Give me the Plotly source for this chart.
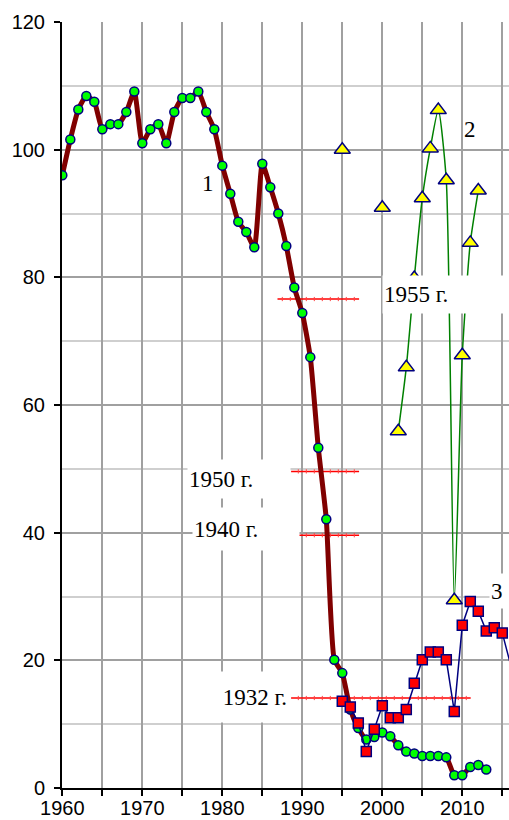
import plotly.graph_objects as go

# ---- data ----
years1 = list(range(1960, 2014))
series1 = [96.0, 101.6, 106.3, 108.4, 107.5, 103.2, 104.0, 104.0, 105.9, 109.1,
           101.0, 103.2, 104.0, 101.0, 105.9, 108.1, 108.1, 109.1, 105.9, 103.2,
           97.5, 93.1, 88.7, 87.1, 84.7, 97.8, 94.1, 90.0, 84.9, 78.4,
           74.4, 67.5, 53.3, 42.1, 20.1, 18.0, 12.3, 9.4, 7.6, 8.0,
           8.7, 8.1, 6.7, 5.7, 5.4, 5.0, 5.0, 5.0, 4.8, 2.0,
           2.0, 3.3, 3.6, 2.9]

years2 = list(range(1995, 2013))
series2 = [100.0, None, None, None, None, 90.9, None, 55.9, 65.9, 79.9,
           92.4, 100.2, 106.2, 95.2, 29.4, 67.8, 85.4, 93.6]

years3 = list(range(1995, 2017))
series3 = [13.6, 12.7, 10.2, 5.7, 9.2, 12.9, 11.0, 11.0, 12.3, 16.4,
           20.1, 21.3, 21.3, 20.1, 12.0, 25.5, 29.2, 27.7, 24.6, 25.1,
           24.3, 19.5]

ref_labels = ["1955 г.", "1950 г.", "1940 г.", "1932 г."]
ref_levels = [76.6, 49.6, 39.6, 14.1]
ref_start = [1986.9, 1988.6, 1989.2, 1988.6]
ref_end = [1997.1, 1997.1, 1997.1, 2011.05]

x_tickvals = list(range(1960, 2016, 5))
x_ticktext = [str(v) if v % 10 == 0 else "" for v in x_tickvals]
y_tickvals = list(range(0, 121, 20))

fig = go.Figure()

# reference lines (red with small ticks)
for lvl, a, b in zip(ref_levels, ref_start, ref_end):
    fig.add_trace(go.Scatter(x=[a, b], y=[lvl, lvl], mode="lines",
                             line=dict(color="#ff0000", width=1.5),
                             showlegend=False, hoverinfo="skip"))
    tx = []
    t = int(a) + 0.5
    while t < b:
        if t > a:
            tx.append(t)
        t += 1.0
    fig.add_trace(go.Scatter(x=tx, y=[lvl] * len(tx), mode="markers",
                             marker=dict(symbol="line-ns", size=3,
                                         line=dict(color="#ff4040", width=1)),
                             showlegend=False, hoverinfo="skip"))

fig.add_trace(go.Scatter(x=years1, y=series1, mode="lines+markers",
                         line=dict(color="#800000", width=5, shape="spline", smoothing=0.5),
                         marker=dict(symbol="circle", size=9, color="#00ff00",
                                     line=dict(color="#000080", width=1.5)),
                         showlegend=False))
fig.add_trace(go.Scatter(x=years2, y=series2, mode="lines+markers", connectgaps=False,
                         line=dict(color="#008000", width=1.5, shape="spline", smoothing=0.6),
                         marker=dict(symbol="triangle-up", size=14, color="#ffff00",
                                     line=dict(color="#000080", width=1.5)),
                         showlegend=False))
fig.add_trace(go.Scatter(x=years3, y=series3, mode="lines+markers", cliponaxis=False,
                         line=dict(color="#000080", width=1.5),
                         marker=dict(symbol="square", size=10, color="#ff0000",
                                     line=dict(color="#000080", width=1.5)),
                         showlegend=False))

serif = dict(family="Liberation Serif, Times New Roman, serif", size=23, color="black")

anns = [
    dict(x=1978.2, y=94.7, text="1", showarrow=False, font=serif),
    dict(x=2011.0, y=103.1, text="2", showarrow=False, font=serif),
    dict(x=2013.3, y=30.8, text="3", showarrow=False, font=serif, bgcolor="white",
         xanchor="left", width=30, height=32, align="left"),
    dict(x=2000.0, y=77.3, text=ref_labels[0], showarrow=False, font=serif, bgcolor="white",
         xanchor="left", width=140, height=35, align="left"),
    dict(x=1975.6, y=48.4, text=ref_labels[1], showarrow=False, font=serif, bgcolor="white",
         xanchor="left", width=100, height=36, align="left"),
    dict(x=1976.2, y=40.6, text=ref_labels[2], showarrow=False, font=serif, bgcolor="white",
         xanchor="left", width=104, height=40, align="left"),
    dict(x=1988.3, y=14.3, text=ref_labels[3], showarrow=False, font=serif, bgcolor="white",
         xanchor="right", width=86, height=48, align="right"),
]
fig.update_layout(annotations=anns)

fig.update_layout(
    width=509, height=820,
    margin=dict(l=62, r=0, t=22, b=32),
    paper_bgcolor="white", plot_bgcolor="white",
    font=dict(family="Liberation Sans, Arial, sans-serif", size=20, color="black"),
    xaxis=dict(range=[1959.96, 2015.84], tickmode="array", tickvals=x_tickvals,
               ticktext=x_ticktext, ticks="outside", ticklen=6, tickwidth=1.5,
               tickcolor="black", showline=True, linecolor="black", linewidth=2,
               showgrid=True, gridcolor="#a0a0a0", gridwidth=1.5, zeroline=False,
               automargin=False, ticklabelstandoff=-5, tickfont=dict(size=20)),
    yaxis=dict(range=[0, 120], tickmode="array", tickvals=y_tickvals,
               ticks="outside", ticklen=6, tickwidth=1.5, tickcolor="black",
               showline=True, linecolor="black", linewidth=2,
               showgrid=True, gridcolor="#a0a0a0", gridwidth=1.5, zeroline=False,
               minor=dict(dtick=10, showgrid=True, gridcolor="#cfcfcf", gridwidth=1.5),
               automargin=False, ticklabelstandoff=5, tickfont=dict(size=20)),
)

fig.write_html("out.html", config={"displayModeBar": False},
               post_script="document.body.style.margin='0';")
